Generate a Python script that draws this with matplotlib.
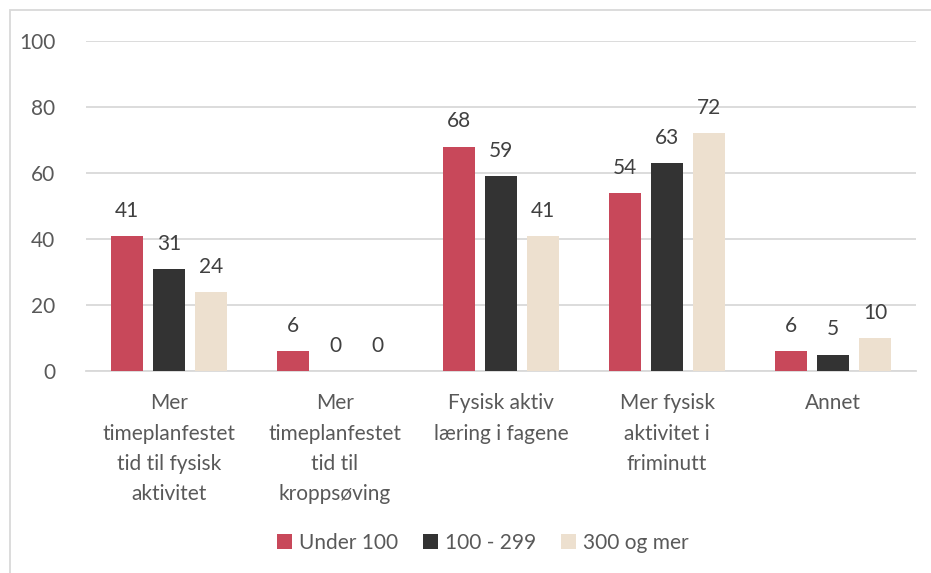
import numpy as np
import matplotlib.pyplot as plt
from matplotlib.patches import Rectangle

# Kategorier og verdier
kategorier = ['Mer\ntimeplanfestet\ntid til fysisk\naktivitet',
              'Mer\ntimeplanfestet\ntid til\nkroppsøving',
              'Fysisk aktiv\nlæring i fagene',
              'Mer fysisk\naktivitet i\nfriminutt',
              'Annet']
serier = ['Under 100', '100 - 299', '300 og mer']
under_100 = [41, 6, 68, 54, 6]
mellom_100_299 = [31, 0, 59, 63, 5]
over_300 = [24, 0, 41, 72, 10]
farger = ['#C8485A', '#333333', '#EDE0CF']

plt.rcParams['font.family'] = ['Lato', 'DejaVu Sans']
fs = 15

fig = plt.figure(figsize=(9.31, 5.73), dpi=100)
ax = fig.add_axes([86/931, 1 - 371/573, 830/931, 330/573])

x = np.arange(len(kategorier))
bredde = 0.187
steg = 0.253
verdier = [under_100, mellom_100_299, over_300]
for i, (navn, v, f) in enumerate(zip(serier, verdier, farger)):
    pos = x + (i - 1) * steg
    ax.bar(pos, v, bredde, color=f, label=navn, zorder=3)
    for px, py in zip(pos, v):
        ax.text(px, py + 4.6, f'{py}', ha='center', va='bottom',
                fontsize=fs, color='#404040')

ax.set_xlim(-0.5, len(kategorier) - 0.5)
ax.set_ylim(0, 100)
ax.set_yticks(range(0, 101, 20))
ax.yaxis.grid(True, color='#D9D9D9', linewidth=1.3, zorder=0)
ax.set_axisbelow(True)
for s in ['top', 'right', 'left']:
    ax.spines[s].set_visible(False)
ax.spines['bottom'].set_color('#D9D9D9')
ax.spines['bottom'].set_linewidth(1.3)
ax.tick_params(axis='both', length=0, labelsize=fs, colors='#595959')
ax.tick_params(axis='y', pad=22)
ax.tick_params(axis='x', pad=16)
ax.set_xticks(x)
ax.set_xticklabels(kategorier, linespacing=1.65)

ax.legend(loc='center', bbox_to_anchor=(483/931, 1 - 543/573),
          bbox_transform=fig.transFigure, ncol=3, frameon=False,
          fontsize=fs, labelcolor='#595959', handlelength=0.7,
          handleheight=0.7, handletextpad=0.35, columnspacing=1.2)

fig.patches.append(Rectangle((10/931, -0.01), 1, 1 - 10/573 + 0.01,
                             transform=fig.transFigure, fill=False,
                             edgecolor='#D9D9D9', linewidth=1.3))

fig.savefig('out.png', dpi=100)
